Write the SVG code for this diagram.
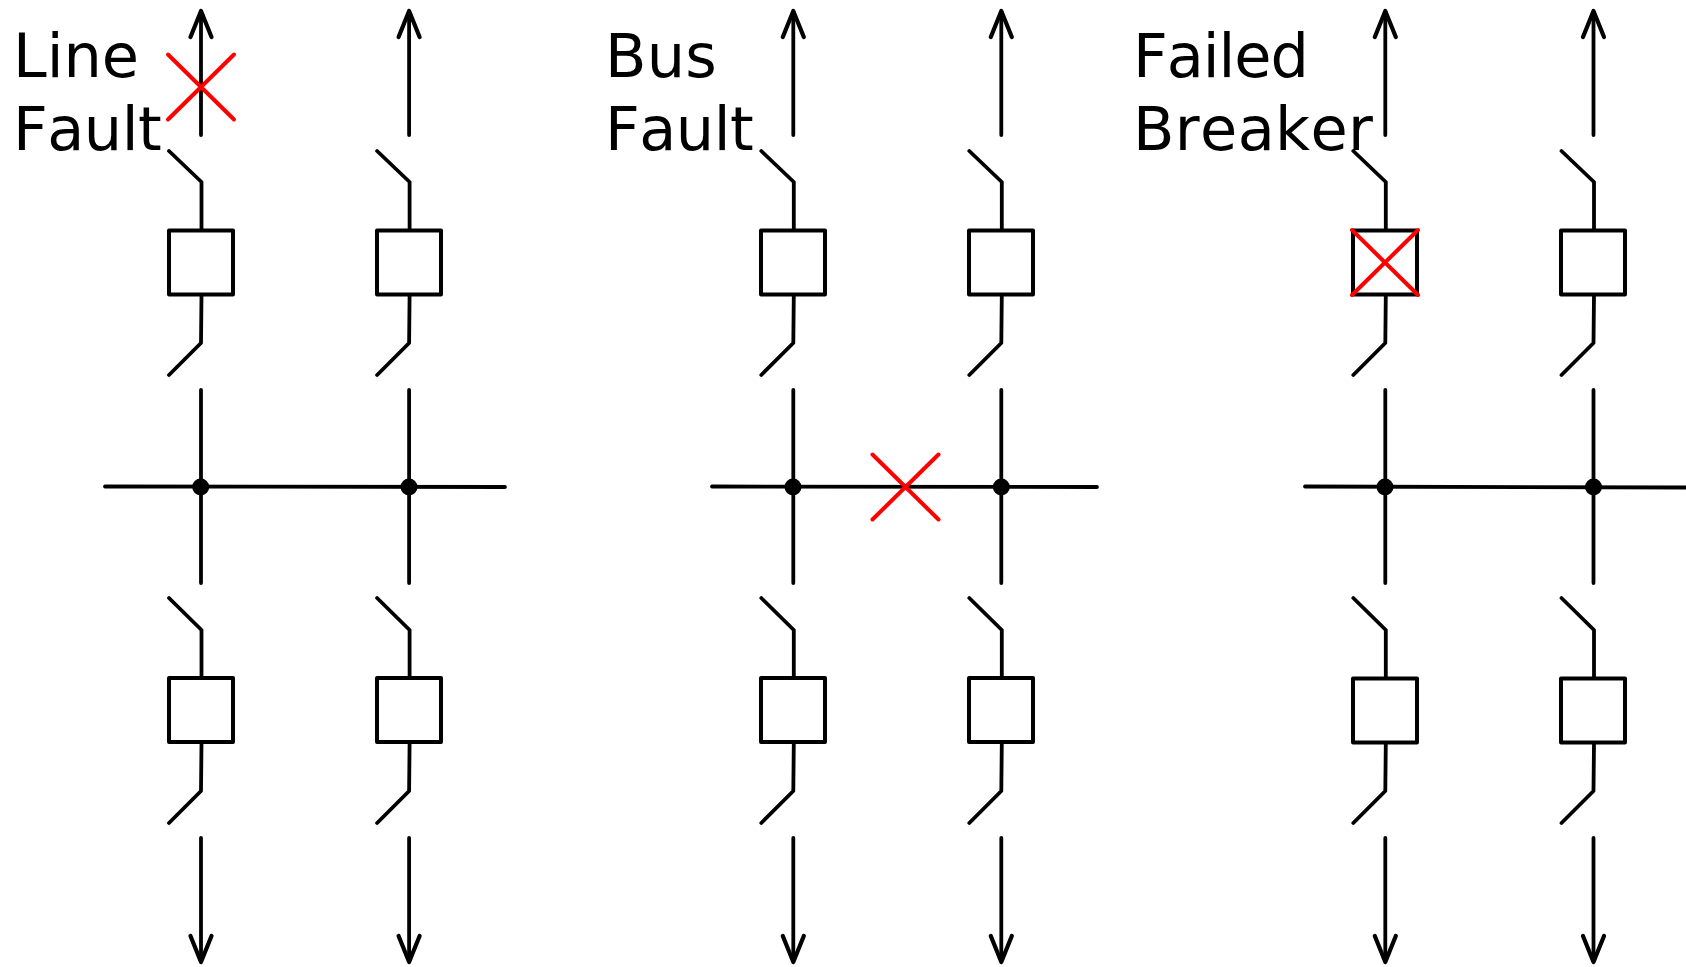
<svg xmlns="http://www.w3.org/2000/svg" width="1686" height="967" viewBox="0 0 1686 967">
<style>
.w{fill:none;stroke:#000;stroke-width:3.8;stroke-linecap:round;stroke-linejoin:round}
.h{fill:none;stroke:#000;stroke-width:4.2;stroke-linecap:round;stroke-linejoin:round}
.b{fill:#fff;stroke:#000;stroke-width:4;stroke-linejoin:round}
.x{fill:none;stroke:#f00;stroke-width:4;stroke-linecap:round}
.t{font-family:"DejaVu Sans",sans-serif;font-size:60.5px;font-kerning:none;fill:#000}
</style>
<defs>
<g id="bay" class="w">
<path d="M0 135V14"/>
<path class="h" d="M-10.500 37L0 11L10.500 37"/>
<path d="M-32 151L.5 182V231M.5 295L0 343L-32 375"/>
<path d="M0 390V583"/>
<path d="M-32 598L.5 630V678M.5 743L0 791L-32 823"/>
<path d="M0 838V960"/>
<path class="h" d="M-10.500 936L0 962L10.500 936"/>
</g>
<rect id="brk" class="b" x="-32" y="-32" width="64" height="64"/>
<circle id="dot" r="8.5" fill="#000"/>
<path id="cross" class="x" d="M-33 -32.500L33 32.500M33 -32.500L-33 32.500"/>
</defs>
<g id="connectors">
<use href="#bay" x="201"/>
<use href="#bay" x="409.100"/>
<use href="#bay" x="793.300"/>
<use href="#bay" x="1001.300"/>
<use href="#bay" x="1385.300"/>
<use href="#bay" x="1593.500"/>
<path class="w" d="M105 486.500L505 487M712 486.500L1097 487M1305 486.500L1686 487.500"/>
</g>
<g id="breakers">
<use id="brk1a" href="#brk" x="201" y="262.500"/><use id="brk1b" href="#brk" x="201" y="710"/>
<use id="brk2a" href="#brk" x="409" y="262.500"/><use id="brk2b" href="#brk" x="409" y="710"/>
<use id="brk3a" href="#brk" x="793" y="262.500"/><use id="brk3b" href="#brk" x="793" y="710"/>
<use id="brk4a" href="#brk" x="1001" y="262.500"/><use id="brk4b" href="#brk" x="1001" y="710"/>
<use id="brk5a" href="#brk" x="1385" y="262.500"/><use id="brk5b" href="#brk" x="1385" y="710.500"/>
<use id="brk6a" href="#brk" x="1593" y="262.500"/><use id="brk6b" href="#brk" x="1593" y="710.500"/>
</g>
<g id="junctions">
<use href="#dot" x="200.700" y="487"/><use href="#dot" x="409" y="487"/>
<use href="#dot" x="793" y="487"/><use href="#dot" x="1001.300" y="487"/>
<use href="#dot" x="1385" y="487"/><use href="#dot" x="1593.500" y="487"/>
</g>
<g id="faults">
<use id="fault-line" href="#cross" x="201" y="87"/>
<use id="fault-bus" href="#cross" x="905.500" y="487"/>
<use id="fault-breaker" href="#cross" x="1385" y="262.500"/>
</g>
<g id="labels">
<text class="t" x="13" y="77">Line</text><text class="t" x="13" y="150" letter-spacing="-.5">Fault</text>
<text class="t" x="605" y="77" letter-spacing=".2">Bus</text><text class="t" x="605" y="150" letter-spacing="-.5">Fault</text>
<text class="t" x="1133" y="77" letter-spacing="-1.050">Failed</text><text class="t" x="1133" y="150" letter-spacing=".35">Breaker</text>
</g>
</svg>
